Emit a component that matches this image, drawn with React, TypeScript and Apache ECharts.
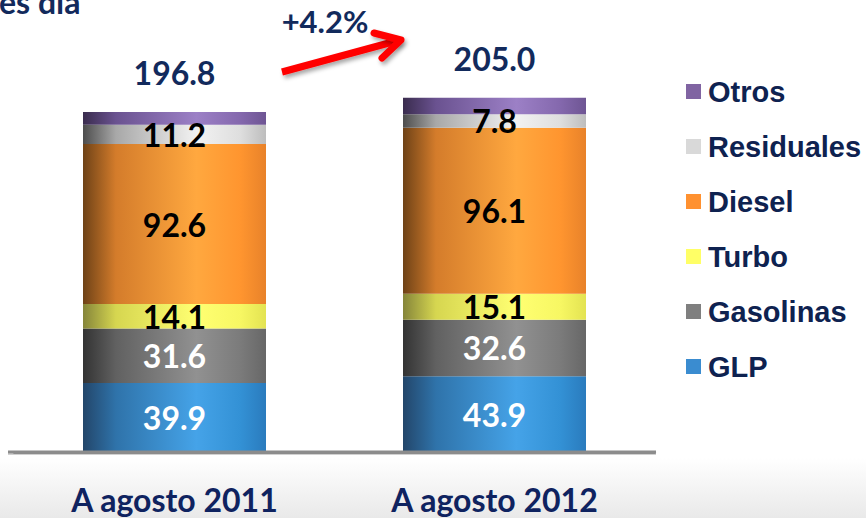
import React, { useEffect, useRef } from "react";
import * as echarts from "echarts";

const categories = ["A agosto 2011", "A agosto 2012"];
const glp = [39.9, 43.9];
const gasolinas = [31.6, 32.6];
const turbo = [14.1, 15.1];
const diesel = [92.6, 96.1];
const residuales = [11.2, 7.8];
const otros = [7.4, 9.5];
const totals = [196.8, 205.0];
const legendOrder = ["Otros", "Residuales", "Diesel", "Turbo", "Gasolinas", "GLP"];

const NAVY = "#122a5c";
const NUMFONT = "Lato, 'Open Sans', sans-serif";

function grad(stops: string[]) {
  const pos = [0, 0.18, 0.62, 0.86, 1];
  return new echarts.graphic.LinearGradient(
    0, 0, 1, 0,
    stops.map((c, i) => ({ offset: pos[i], color: c }))
  );
}

const seriesDefs = [
  { name: "GLP", data: glp, legend: "#3a8cd0", stops: ["#23466a", "#2f73aa", "#45a3e8", "#3391d5", "#2a7bbd"], label: "#ffffff" },
  { name: "Gasolinas", data: gasolinas, legend: "#7f7f7f", stops: ["#333333", "#616161", "#919191", "#7b7b7b", "#676767"], label: "#ffffff" },
  { name: "Turbo", data: turbo, legend: "#ffff66", stops: ["#85853a", "#d6d650", "#ffff72", "#f7f763", "#e3e352"], label: "#000000" },
  { name: "Diesel", data: diesel, legend: "#ff9130", stops: ["#6e4217", "#d47c2b", "#ffa83f", "#ff952f", "#e8822a"], label: "#000000" },
  { name: "Residuales", data: residuales, legend: "#d9d9d9", stops: ["#4d4d4d", "#a8a8a8", "#f2f2f2", "#dedede", "#bdbdbd"], label: "#000000" },
  { name: "Otros", data: otros, legend: "#8064a2", stops: ["#3a2c4e", "#6a5290", "#9c80c6", "#8468ad", "#6e5593"], label: null },
];

export default function App() {
  const ref = useRef<HTMLDivElement>(null);
  useEffect(() => {
    if (!ref.current) return;
    const chart = echarts.init(ref.current, undefined, { renderer: "svg" });
    const pct = ((totals[1] / totals[0] - 1) * 100).toFixed(1);
    const barSeries = seriesDefs.map((s) => ({
      type: "bar",
      name: s.name,
      stack: "total",
      barWidth: 183,
      data: s.data,
      z: 3,
      itemStyle: { color: grad(s.stops) },
      label: s.label
        ? {
            show: true,
            position: "inside",
            formatter: (p: any) => Number(p.value).toFixed(1),
            color: s.label,
            fontFamily: NUMFONT,
            fontWeight: "bold",
            fontSize: 32,
          }
        : {
            show: true,
            position: "top",
            distance: 23,
            formatter: (p: any) => totals[p.dataIndex].toFixed(1),
            color: NAVY,
            fontFamily: NUMFONT,
            fontWeight: "bold",
            fontSize: 32,
          },
    }));
    chart.setOption({
      animation: false,
      backgroundColor: "#ffffff",
      grid: { left: 14.5, width: 640, top: 20, bottom: 66 },
      xAxis: {
        type: "category",
        data: categories,
        z: 10,
        axisTick: { show: false },
        axisLine: {
          show: true,
          lineStyle: { color: "#8c8c8c", width: 3 },
        },
        axisLabel: {
          margin: 34,
          fontFamily: NUMFONT,
          fontWeight: "bold",
          fontSize: 32,
          lineHeight: 26,
          color: "#0f2360",
        },
      },
      yAxis: { type: "value", min: 0, max: 250, show: false },
      legend: {
        orient: "vertical",
        left: 681,
        top: 72,
        icon: "rect",
        itemWidth: 15,
        itemHeight: 15,
        itemGap: 26,
        data: legendOrder.map((n) => ({
          name: n,
          itemStyle: { color: seriesDefs.find((s) => s.name === n)!.legend },
        })),
        textStyle: {
          fontFamily: "'Liberation Sans', Arial, sans-serif",
          fontWeight: "bold",
          fontSize: 29,
          lineHeight: 28,
          color: "#0e2250",
          padding: [0, 0, 0, 2],
        },
      },
      graphic: [
        {
          type: "rect",
          left: 0,
          top: 458,
          z: -100,
          silent: true,
          shape: { width: 866, height: 60 },
          style: {
            fill: new echarts.graphic.LinearGradient(0, 0, 0, 1, [
              { offset: 0, color: "#ffffff" },
              { offset: 1, color: "#e9e9e9" },
            ]),
          },
        },
        {
          type: "rect",
          left: 8,
          top: 450.5,
          z: 4,
          silent: true,
          shape: { width: 648, height: 3 },
          style: { fill: "#8c8c8c" },
        },
        {
          type: "rect",
          left: 8,
          top: 453.5,
          z: 4,
          silent: true,
          shape: { width: 648, height: 1.5 },
          style: { fill: "rgba(0,0,0,0.18)" },
        },
        {
          type: "text",
          x: -1,
          y: 1,
          style: {
            text: "es día",
            fontFamily: NUMFONT,
            fontWeight: "bold",
            fontSize: 32,
            fill: NAVY,
            verticalAlign: "middle",
          },
        },
        {
          type: "text",
          x: 325,
          y: 21,
          style: {
            text: "+" + pct + "%",
            fontFamily: NUMFONT,
            fontWeight: "bold",
            fontSize: 31,
            fill: NAVY,
            align: "center",
            verticalAlign: "middle",
          },
        },
        {
          type: "group",
          children: [
            {
              type: "line",
              shape: { x1: 282, y1: 72, x2: 400, y2: 40 },
              style: {
                stroke: "#ff0000",
                lineWidth: 7,
                shadowColor: "rgba(0,0,0,0.35)",
                shadowBlur: 4,
                shadowOffsetX: 2,
                shadowOffsetY: 3,
              },
            },
            {
              type: "polyline",
              shape: { points: [[374, 33], [401, 40], [382, 58]] },
              style: {
                stroke: "#ff0000",
                fill: "none",
                lineWidth: 7,
                lineJoin: "round",
                lineCap: "round",
                shadowColor: "rgba(0,0,0,0.35)",
                shadowBlur: 4,
                shadowOffsetX: 2,
                shadowOffsetY: 3,
              },
            },
          ],
        },
      ],
      series: barSeries,
    });
    return () => chart.dispose();
  }, []);
  return (
    <div
      ref={ref}
      style={{ position: "fixed", left: 0, top: 0, width: 866, height: 518 }}
    />
  );
}
